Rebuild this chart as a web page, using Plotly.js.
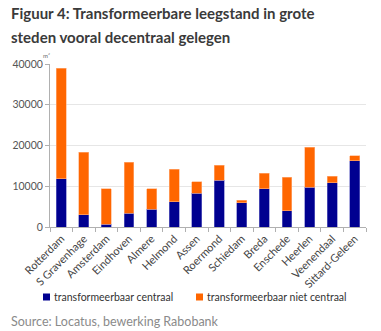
<!DOCTYPE html>
<html><head><meta charset="utf-8">
<script src="https://cdn.plot.ly/plotly-3.0.1.min.js"></script>
<style>html,body{margin:0;padding:0;background:#fff}#c{width:381px;height:331px}</style>
</head><body><div id="c"></div>
<script>
const cities = ["Rotterdam","S Gravenhage","Amsterdam","Eindhoven","Almere","Helmond","Assen","Roermond","Schiedam","Breda","Enschede","Heerlen","Veenendaal","Sittard-Geleen"];
const centraal = [11900, 3000, 700, 3350, 4400, 6200, 8250, 11450, 5950, 9400, 3950, 9800, 10900, 16250];
const nietCentraal = [27100, 15300, 8700, 12500, 5000, 8000, 2900, 3750, 580, 3850, 8300, 9750, 1550, 1250];
const seriesNames = ["transformeerbaar centraal", "transformeerbaar niet centraal"];
const seriesColors = ["#000090", "#ff6600"];
const yTicks = [0, 10000, 20000, 30000, 40000];

const font = "Lato, 'Open Sans', sans-serif";
// plot area in pixels: x 50..366, y 64..227
const L = 50, R = 366, T = 64, B = 227;
const px = x => (x - L) / (R - L);
const py = y => (B - y) / (B - T);

const data = [
  {type:"bar", x:cities, y:centraal, name:seriesNames[0], marker:{color:seriesColors[0], line:{color:"#6f6fc8", width:0.6}}},
  {type:"bar", x:cities, y:nietCentraal, name:seriesNames[1], marker:{color:seriesColors[1], line:{color:"#ffb080", width:0.6}}}
];

// legend drawn as shapes + annotations
const legendX = [43, 196];
const legendY = 297;
const shapes = legendX.map((x, i) => ({type:"rect", xref:"paper", yref:"paper",
  x0:px(x), x1:px(x+7), y0:py(legendY+3.5), y1:py(legendY-3.5), fillcolor:seriesColors[i], line:{width:0}}));
const legendAnn = legendX.map((x, i) => ({text:seriesNames[i], showarrow:false, xref:"paper", yref:"paper",
  x:px(x+9), y:py(legendY), xanchor:"left", yanchor:"middle", font:{size:10.5, color:"#333", family:font}}));

const layout = {
  width:381, height:331,
  margin:{l:L, r:381-R, t:T, b:331-B},
  paper_bgcolor:"#fff", plot_bgcolor:"#fff",
  barmode:"stack", bargap:0.56,
  font:{family:font, color:"#555", size:10},
  showlegend:false,
  xaxis:{type:"category", tickangle:-45, showline:true, linecolor:"#b0b0b0", linewidth:1,
         ticks:"outside", tickson:"boundaries", ticklen:4, tickcolor:"#b0b0b0",
         tickfont:{size:11, color:"#444"}, showgrid:false},
  yaxis:{range:[0,40000], tickvals:yTicks, ticktext:yTicks.map(String), showline:true, linecolor:"#b0b0b0",
         ticks:"outside", ticklen:4, tickcolor:"#b0b0b0", gridcolor:"#e6e6e6", gridwidth:1,
         tickfont:{size:10.5, color:"#555"}, zeroline:false},
  shapes: shapes,
  annotations:[
    {text:"<b>Figuur 4: Transformeerbare leegstand in grote</b>", showarrow:false,
     xref:"paper", yref:"paper", x:px(9), y:py(13), xanchor:"left", yanchor:"middle", font:{size:15, color:"#3a3a3a", family:font}},
    {text:"<b>steden vooral decentraal gelegen</b>", showarrow:false,
     xref:"paper", yref:"paper", x:px(9), y:py(37), xanchor:"left", yanchor:"middle", font:{size:15, color:"#3a3a3a", family:font}},
    {text:"m²", showarrow:false, xref:"paper", yref:"paper", x:px(46), y:py(55), xanchor:"center", yanchor:"middle", font:{size:6, color:"#666"}},
    {text:"Source: Locatus, bewerking Rabobank", showarrow:false, xref:"paper", yref:"paper", x:px(9), y:py(321),
     xanchor:"left", yanchor:"middle", font:{size:12.5, color:"#8a8a8a", family:font}}
  ].concat(legendAnn)
};
Plotly.newPlot("c", data, layout, {displayModeBar:false, staticPlot:true});
</script></body></html>
